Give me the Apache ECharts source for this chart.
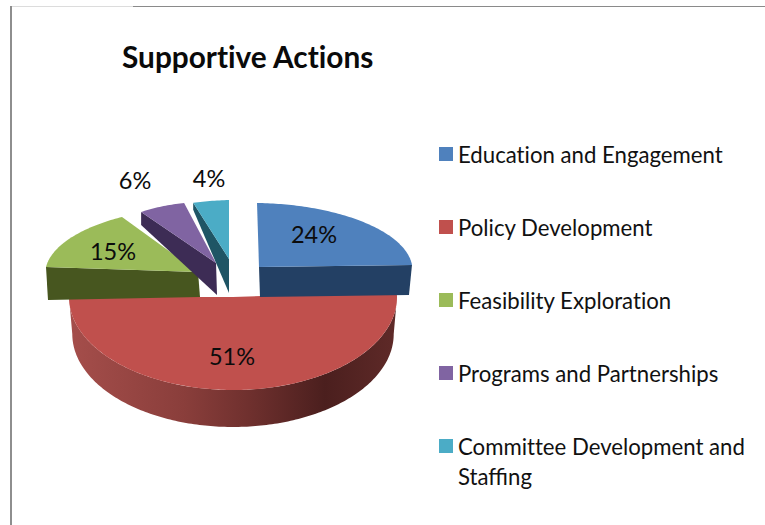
<!DOCTYPE html>
<html>
<head>
<meta charset="utf-8">
<style>
html,body{margin:0;padding:0;background:#fff}
#chart{width:765px;height:525px}
#chart text{font-variant-ligatures:none}
</style>
<script src="https://cdn.jsdelivr.net/npm/echarts@6/dist/echarts.min.js"></script>
</head>
<body>
<div id="chart"></div>
<script>
// Share of supportive actions, in percent, clockwise from twelve o'clock.
const categories = ['Education and Engagement', 'Policy Development', 'Feasibility Exploration', 'Programs and Partnerships', 'Committee Development and Staffing'];
const shares = [24, 51, 15, 6, 4];
const titleText = 'Supportive Actions';

const topColors = ['#4f81bd', '#c0504d', '#9bbb59', '#8064a2', '#4bacc6'];
const wallColors = ['#234064', null, '#47561f', '#3d2c55', '#1f5565'];

// Projected frame of each exploded wedge: tip, axes of its tilted ellipse,
// how far the wall drops at tip and rim, and where its percentage sits.
const frames = [
  { tip: [259, 267], u: [153.4, 2], v: [-2, -64], wall: 'end', dropTip: [1, 30], dropRim: [-3, 30], label: [314, 234] },
  { tip: [233, 297], u: [164, 0], v: [0, -93], wall: 'arc', label: [232, 356] },
  { tip: [198, 272], u: [152, 5], v: [16.5, -64.4], wall: 'start', dropTip: [2, 25], dropRim: [2, 33], label: [113, 251] },
  { tip: [216, 263], u: [127, 2.4], v: [-0.3, -61.3], wall: 'start', dropTip: [1, 32], dropRim: [0, 13], label: [135, 180] },
  { tip: [229, 259], u: [144, -4], v: [0, -59], wall: 'start', dropTip: [0, 34], dropRim: [0, 7], label: [209, 178] }
];

const total = shares.reduce((a, b) => a + b, 0);
const FONT = 'Lato, "Open Sans", sans-serif';
const DEG = Math.PI / 180;

function wedgeAngles(index) {
  const before = shares.slice(0, index).reduce((a, b) => a + b, 0);
  return [before / total * 360, (before + shares[index]) / total * 360];
}

function rimPoint(f, deg) {
  const s = Math.sin(deg * DEG), c = Math.cos(deg * DEG);
  return [f.tip[0] + s * f.u[0] + c * f.v[0], f.tip[1] + s * f.u[1] + c * f.v[1]];
}

function arc(f, from, to) {
  const pts = [];
  const n = Math.max(2, Math.ceil(Math.abs(to - from)));
  for (let i = 0; i <= n; i++) pts.push(rimPoint(f, from + (to - from) * i / n));
  return pts;
}

function redWallFill() {
  return new echarts.graphic.LinearGradient(0, 0, 1, 0, [
    { offset: 0, color: '#a54e4b' },
    { offset: 0.35, color: '#8a3e3b' },
    { offset: 0.55, color: '#6f302e' },
    { offset: 0.78, color: '#4b1f1e' },
    { offset: 1, color: '#5f2a28' }
  ]);
}

function renderWedge(index) {
  return function (params, api) {
    const f = frames[index];
    const [a0, a1] = wedgeAngles(index);
    const children = [];
    if (f.wall === 'arc') {
      const near = arc(f, 90, 270);
      const far = near.map(p => [f.tip[0] + (p[0] - f.tip[0]) * 0.98, p[1] + 37]).reverse();
      children.push({ type: 'polygon', shape: { points: near.concat(far) }, style: { fill: redWallFill() } });
    } else {
      const rim = rimPoint(f, f.wall === 'end' ? a1 : a0);
      children.push({
        type: 'polygon',
        shape: { points: [f.tip, rim, [rim[0] + f.dropRim[0], rim[1] + f.dropRim[1]], [f.tip[0] + f.dropTip[0], f.tip[1] + f.dropTip[1]]] },
        style: { fill: wallColors[index] }
      });
    }
    children.push({
      type: 'polygon',
      shape: { points: [f.tip].concat(arc(f, a0, a1)) },
      style: { fill: topColors[index] }
    });
    children.push({
      type: 'text',
      z2: 10,
      style: {
        text: api.value(0) + '%', x: f.label[0], y: f.label[1],
        align: 'center', verticalAlign: 'middle',
        font: '23.5px ' + FONT, fill: '#0c0c0c'
      }
    });
    return { type: 'group', children: children };
  };
}

// Paint the large front wedge first so its neighbours' walls overlap it.
const paintOrder = [1, 0, 2, 3, 4];
const series = paintOrder.map(i => ({
  type: 'custom',
  name: categories[i],
  coordinateSystem: 'none',
  silent: true,
  itemStyle: { color: topColors[i] },
  data: [[shares[i]]],
  renderItem: renderWedge(i)
}));

const chart = echarts.init(document.getElementById('chart'), null, { renderer: 'svg' });
chart.setOption({
  animation: false,
  backgroundColor: '#fff',
  title: {
    text: titleText, left: 122, top: 41, padding: 0,
    textStyle: { fontFamily: FONT, fontSize: 29.8, fontWeight: 'bold', color: '#0a0a0a' }
  },
  legend: {
    orient: 'vertical', left: 439, top: 142, padding: 0,
    icon: 'rect', itemWidth: 14, itemHeight: 14, itemGap: 49, selectedMode: false,
    data: categories,
    formatter: name => name.replace(/ Staffing$/, ''),
    textStyle: { fontFamily: FONT, fontSize: 22.2, color: '#111', lineHeight: 24 }
  },
  series: series,
  graphic: [
    { type: 'line', shape: { x1: 11, y1: 6.5, x2: 133, y2: 6.5 }, style: { stroke: '#dcdcdc', lineWidth: 1 }, silent: true },
    { type: 'line', shape: { x1: 133, y1: 6.5, x2: 765, y2: 6.5 }, style: { stroke: '#8a8a8a', lineWidth: 1 }, silent: true },
    { type: 'line', shape: { x1: 11, y1: 6, x2: 11, y2: 525 }, style: { stroke: '#8e8e8e', lineWidth: 2 }, silent: true },
    { type: 'text', style: { text: 'Staffing', x: 458, y: 476, verticalAlign: 'middle', font: '22.2px ' + FONT, fill: '#111' }, silent: true }
  ]
});
</script>
</body>
</html>
